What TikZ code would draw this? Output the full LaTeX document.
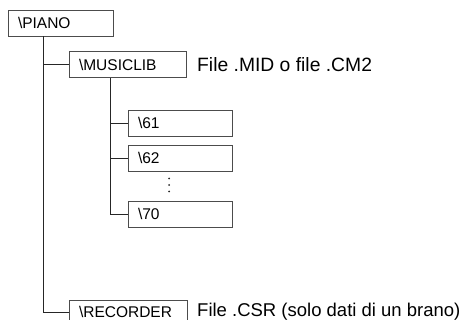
\documentclass[tikz,border=0pt]{standalone}
\usepackage{fontspec}
\setmainfont{Liberation Sans}
\begin{document}
\begin{tikzpicture}[x=1pt,y=-1pt,
  dirbox/.style={draw=black!70,line width=0.9pt,rectangle,inner xsep=10pt,inner ysep=0pt,
    minimum height=26pt,align=left,font=\fontsize{15.5}{18}\selectfont},
  sidetext/.style={anchor=west,inner sep=0pt,font=\fontsize{18.5}{22}\selectfont},
  tree/.style={draw=black!85,line width=0.9pt}]
\useasboundingbox (0,0) rectangle (463,320);
\clip (0,0) rectangle (463,320);
% boxes
\node[dirbox,text width=85pt] (piano) at (60.5,23) {\textbackslash PIANO};
\node[dirbox,text width=97pt] (musiclib) at (127.5,64.5) {\textbackslash MUSICLIB};
\node[dirbox,text width=84pt] (n61) at (180,123) {\textbackslash 61};
\node[dirbox,text width=84pt] (n62) at (180,158) {\textbackslash 62};
\node[dirbox,text width=84pt] (n70) at (180,214) {\textbackslash 70};
\node[dirbox,text width=98pt,minimum height=24pt] (recorder) at (128,312) {\textbackslash RECORDER};
% side texts
\node[sidetext,font=\fontsize{19.3}{22}\selectfont] (midtext) at (197,64.5) {File .MID o file .CM2};
\node[sidetext] (csrtext) at (197,311.5) {File .CSR (solo dati di un brano)};
% tree connectors
\draw[tree] (43,0 |- piano.south) -- (43,0 |- recorder.west) -- (recorder.west);
\draw[tree] (43,0 |- musiclib.west) -- (musiclib.west);
\draw[tree] (110,0 |- musiclib.south) -- (110,0 |- n70.west) -- (n70.west);
\draw[tree] (110,0 |- n61.west) -- (n61.west);
\draw[tree] (110,0 |- n62.west) -- (n62.west);
% vertical dots
\foreach \yy in {178.5,185,191.5}
  \fill[black!85] (169,\yy) circle (1pt);
\end{tikzpicture}
\end{document}
